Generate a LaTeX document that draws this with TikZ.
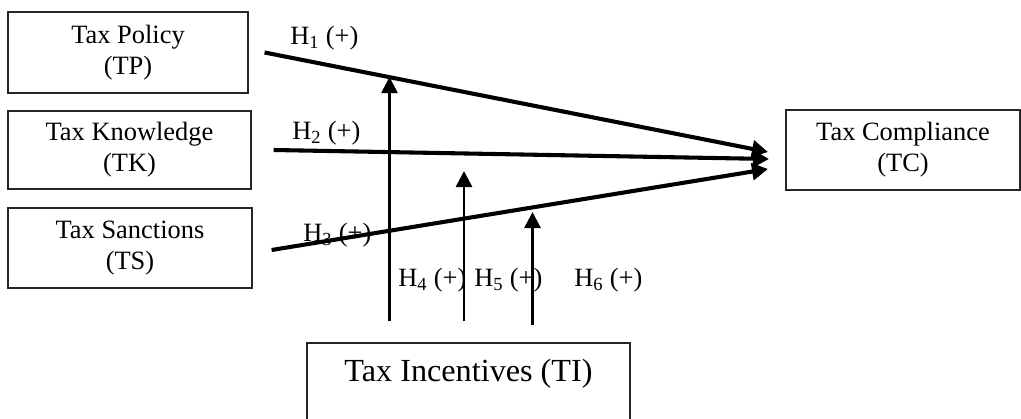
\documentclass[tikz,border=0pt]{standalone}
\usepackage{fontspec}
\setmainfont{Liberation Serif}
\usetikzlibrary{arrows.meta, positioning}

\begin{document}
\begin{tikzpicture}[
  x=0.025cm, y=-0.025cm,
  box/.style={rectangle, draw=black!85, line width=0.8pt, align=center, inner sep=0pt,
    font=\fontsize{18.8pt}{22pt}\selectfont},
  arrow/.style={-{Triangle[length=0.4cm, width=0.42cm]}, line width=2.9pt},
  modarrow/.style={-{Triangle[length=0.4cm, width=0.4cm]}, line width=1.9pt},
  hyp/.style={anchor=base west, inner sep=0pt, font=\fontsize{18.8pt}{22pt}\selectfont}
]
\path[use as bounding box, clip] (0,0) rectangle (1021,419);

% constructs
\node[box, minimum width=6cm, minimum height=2.025cm] (tp) at (128,52.5) {Tax Policy\\(TP)};
\node[box, minimum width=6.075cm, minimum height=1.95cm] (tk) at (129.5,150) {Tax Knowledge\\(TK)};
\node[box, minimum width=6.1cm, minimum height=2cm] (ts) at (130,248) {Tax Sanctions\\(TS)};
\node[box, minimum width=5.85cm, minimum height=2cm] (tc) at (903,150) {Tax Compliance\\(TC)};
\node[box, minimum width=8.075cm, text height=0.975cm, text depth=1.2cm,
  font=\fontsize{22.9pt}{26pt}\selectfont, anchor=base] (ti) at (468.5,382) {Tax Incentives (TI)};

% arrow tips
\coordinate (in1) at (768,152);
\coordinate (in2) at (769,159);
\coordinate (in3) at (768,169);
\coordinate (m1) at (389.5,77);
\coordinate (m2) at (464,171);
\coordinate (m3) at (532.5,212);

% direct paths
\draw[arrow] ([xshift=0.4cm]tp.east) -- (in1);
\draw[arrow] ([xshift=0.55cm]tk.east) -- (in2);
\draw[arrow] ([xshift=0.475cm, yshift=-0.05cm]ts.east) -- (in3);

% moderating paths
\draw[modarrow, shorten <=0.525cm] (ti.north -| m1) -- (m1);
\draw[modarrow, shorten <=0.525cm] (ti.north -| m2) -- (m2);
\draw[modarrow, shorten <=0.425cm] (ti.north -| m3) -- (m3);

% labels
\node[hyp] (h1) at (290,45) {H\textsubscript{1} (+)};
\node[hyp] (h2) at (292,140) {H\textsubscript{2} (+)};
\node[hyp] (h3) at (303,242) {H\textsubscript{3} (+)};
\node[hyp] (h4) at (398,287) {H\textsubscript{4} (+)};
\node[hyp] (h5) at (474,287) {H\textsubscript{5} (+)};
\node[hyp] (h6) at (574,287) {H\textsubscript{6} (+)};

\end{tikzpicture}
\end{document}
